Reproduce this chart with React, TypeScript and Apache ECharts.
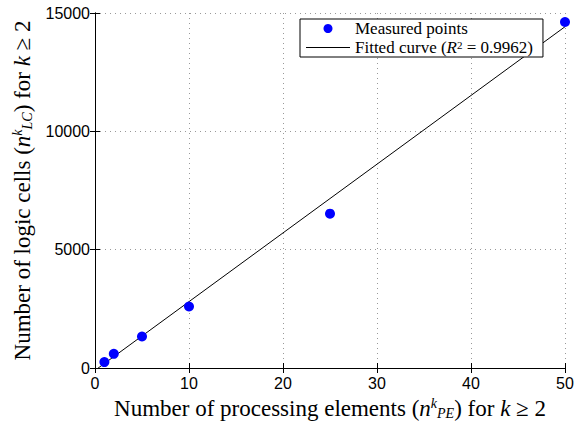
import React, { useEffect, useRef } from "react";
import * as echarts from "echarts";

const peCounts = [1, 2, 5, 10, 25, 50];
const logicCells = [250, 600, 1330, 2600, 6520, 14620];
const fitX = [0, 50];
const fitY = [-100, 14420];
const xTicks = [0, 10, 20, 30, 40, 50];
const yTicks = [0, 5000, 10000, 15000];

const SERIF = "'Liberation Serif', 'DejaVu Serif', serif";
const SANS = "'Liberation Sans', Arial, sans-serif";

const nameRich = {
  n: { fontFamily: SERIF, fontSize: 23, color: "#000" },
  i: { fontFamily: SERIF, fontSize: 23, fontStyle: "italic", color: "#000" },
  sup: { fontFamily: SERIF, fontSize: 14, fontStyle: "italic", color: "#000", verticalAlign: "top", padding: [0, 0, 10, 0] },
  sub: { fontFamily: SERIF, fontSize: 14, fontStyle: "italic", color: "#000", verticalAlign: "bottom", padding: [8, 0, 0, 0] },
};

export default function App() {
  const ref = useRef<HTMLDivElement>(null);
  useEffect(() => {
    document.body.style.margin = "0";
    const chart = echarts.init(ref.current!, null, { renderer: "svg" });
    const axisCommon = {
      axisLine: { show: true, lineStyle: { color: "#000", width: 1 } },
      axisTick: { show: true, inside: true, length: 5, lineStyle: { color: "#000" } },
    };
    chart.setOption({
      animation: false,
      backgroundColor: "#fff",
      grid: { left: 95, right: 18, top: 13, bottom: 55, outerBoundsMode: "none" },
      legend: {
        left: 300,
        top: 19,
        orient: "vertical",
        backgroundColor: "#fff",
        borderColor: "#000",
        borderWidth: 1,
        borderRadius: 0,
        padding: [1, 10, 1, 6],
        itemGap: 2,
        itemWidth: 44,
        itemHeight: 9,
        symbolKeepAspect: true,
        textStyle: {
          fontFamily: SERIF,
          fontSize: 17,
          color: "#000",
          rich: {
            n: { fontFamily: SERIF, fontSize: 17, color: "#000" },
            i: { fontFamily: SERIF, fontSize: 17, fontStyle: "italic", color: "#000" },
            s: { fontFamily: SERIF, fontSize: 11, color: "#000", verticalAlign: "top", padding: [0, 0, 4, 0] },
          },
        },
        formatter: (name: string) =>
          name === "fit" ? "{n|Fitted curve (}{i|R}{s|2}{n| = 0.9962)}" : "{n|Measured points}",
        data: [
          { name: "meas", icon: "circle" },
          { name: "fit", icon: "path://M0,0H44V1H0Z" },
        ],
      },
      xAxis: [
        {
          type: "value",
          min: xTicks[0],
          max: xTicks[xTicks.length - 1],
          interval: 10,
          ...axisCommon,
          axisLabel: { fontFamily: SANS, fontSize: 16, color: "#000", margin: 7 },
          splitLine: { show: true, lineStyle: { color: "#999", type: [1, 4], width: 1 } },
          name: "{n|Number of processing elements (}{i|n}{sup|k}{sub|PE}{n|) for }{i|k}{n| ≥ 2}",
          nameLocation: "middle",
          nameGap: 28,
          nameTextStyle: { rich: nameRich },
        },
        {
          type: "value",
          position: "top",
          min: xTicks[0],
          max: xTicks[xTicks.length - 1],
          interval: 10,
          ...axisCommon,
          axisLabel: { show: false },
          splitLine: { show: false },
        },
      ],
      yAxis: [
        {
          type: "value",
          min: yTicks[0],
          max: yTicks[yTicks.length - 1],
          interval: 5000,
          ...axisCommon,
          axisLabel: { fontFamily: SANS, fontSize: 16, color: "#000", margin: 5, formatter: (v: number) => String(v) },
          splitLine: { show: true, lineStyle: { color: "#999", type: [1, 4], width: 1 } },
          name: "{n|Number of logic cells (}{i|n}{sup|k}{sub|LC}{n|) for }{i|k}{n| ≥ 2}",
          nameLocation: "middle",
          nameGap: 52,
          nameRotate: 90,
          nameTextStyle: { rich: nameRich },
        },
        {
          type: "value",
          position: "right",
          min: yTicks[0],
          max: yTicks[yTicks.length - 1],
          interval: 5000,
          ...axisCommon,
          axisLabel: { show: false },
          splitLine: { show: false },
        },
      ],
      series: [
        {
          name: "fit",
          type: "line",
          data: fitX.map((x, i) => [x, fitY[i]]),
          symbol: "none",
          showSymbol: false,
          lineStyle: { color: "#000", width: 1 },
          itemStyle: { color: "#000" },
          clip: true,
          z: 2,
        },
        {
          name: "meas",
          type: "scatter",
          data: peCounts.map((x, i) => [x, logicCells[i]]),
          symbol: "circle",
          symbolSize: 10,
          itemStyle: { color: "#0000ff", opacity: 1 },
          clip: false,
          z: 3,
        },
      ],
    });
    return () => chart.dispose();
  }, []);
  return <div ref={ref} style={{ width: 583, height: 423 }} />;
}
